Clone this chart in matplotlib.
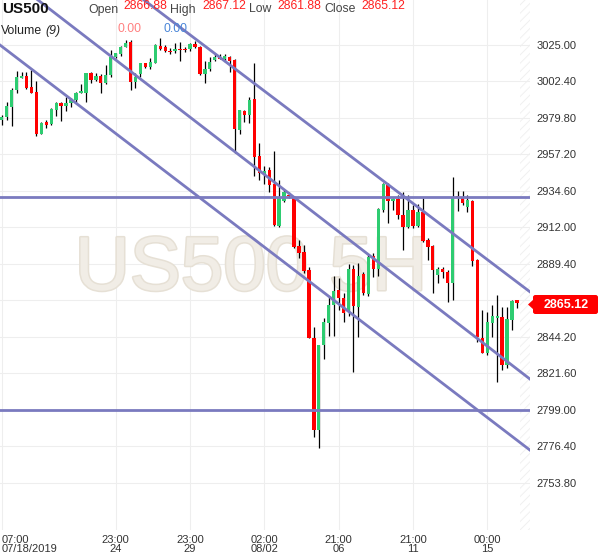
import matplotlib
matplotlib.use("Agg")
import matplotlib.pyplot as plt
import matplotlib.patheffects as pe
from matplotlib.patches import FancyBboxPatch, Polygon
import numpy as np

# 5H candles, US500
opens = [
    2978.4, 2980.0, 2986.6, 2997.0, 3004.6, 3005.6, 2998.6, 2995.7, 2969.9, 2977.1,
    2975.7, 2984.8, 2989.1, 2987.2, 2988.7, 2990.8, 2995.3, 2995.3, 3007.5, 3003.1,
    3005.6, 3001.1, 3006.2, 3017.2, 3019.1, 3023.8, 3026.9, 3001.7, 3006.9, 3013.5,
    3011.4, 3013.9, 3024.2, 3023.8, 3021.3, 3020.9, 3022.2, 3022.2, 3022.2, 3025.4,
    3023.8, 3006.9, 3009.8, 3015.5, 3017.6, 3016.0, 3017.6, 3015.5, 2972.2, 2984.1,
    2981.5, 2991.4, 2956.1, 2944.9, 2947.4, 2938.7, 2912.7, 2928.2, 2931.9, 2930.1,
    2900.4, 2896.6, 2885.5, 2843.4, 2786.4, 2839.1, 2852.7, 2863.8, 2873.1, 2868.2,
    2859.5, 2886.1, 2862.6, 2883.0, 2870.6, 2894.2, 2886.1, 2922.6, 2938.1, 2928.4,
    2929.5, 2919.5, 2912.1, 2922.6, 2912.7, 2921.4, 2904.1, 2900.4, 2882.4, 2886.1,
    2884.3, 2877.4, 2931.3, 2930.7, 2924.5, 2928.2, 2891.7, 2843.4, 2834.1, 2852.7,
    2856.0, 2856.4, 2826.7, 2854.5, 2866.88]
closes = [
    2980.4, 2987.0, 2997.0, 3004.8, 3005.6, 2998.0, 2995.3, 2969.5, 2976.7, 2975.5,
    2985.0, 2989.1, 2987.2, 2989.1, 2990.8, 2995.3, 2996.5, 3007.3, 3003.1, 3005.6,
    3001.1, 3006.2, 3017.6, 3019.7, 3023.8, 3026.2, 3002.1, 3004.8, 3013.5, 3011.4,
    3014.5, 3024.8, 3022.2, 3021.3, 3020.7, 3022.3, 3021.5, 3021.7, 3025.4, 3023.4,
    3006.9, 3010.0, 3014.5, 3017.6, 3016.3, 3018.0, 3015.1, 2972.6, 2984.6, 2981.5,
    2990.8, 2955.6, 2945.4, 2947.0, 2938.1, 2913.4, 2930.7, 2933.8, 2931.3, 2899.7,
    2896.0, 2884.9, 2843.4, 2786.4, 2839.1, 2853.3, 2863.8, 2872.5, 2868.2, 2858.9,
    2886.1, 2863.2, 2881.8, 2871.3, 2893.5, 2886.1, 2923.3, 2938.7, 2928.2, 2929.3,
    2919.5, 2912.1, 2922.6, 2912.7, 2921.4, 2903.5, 2899.7, 2885.5, 2886.1, 2884.3,
    2877.4, 2930.7, 2930.4, 2927.0, 2928.8, 2891.1, 2844.0, 2834.1, 2853.3, 2857.0,
    2857.2, 2826.7, 2855.2, 2866.3, 2865.12]
highs = [
    2981.5, 2989.3, 2998.0, 3008.7, 3007.9, 3007.9, 3009.3, 3002.5, 2977.3, 2978.4,
    2985.6, 2989.7, 2989.5, 2992.8, 2992.2, 2995.9, 3000.7, 3007.5, 3007.9, 3007.3,
    3006.7, 3012.2, 3021.7, 3020.1, 3024.2, 3027.9, 3027.9, 3007.3, 3013.9, 3013.9,
    3016.6, 3025.4, 3029.0, 3024.8, 3022.8, 3025.9, 3026.9, 3023.8, 3025.9, 3027.3,
    3024.2, 3015.1, 3017.2, 3019.2, 3019.2, 3019.1, 3018.2, 3016.0, 2984.6, 2984.4,
    2992.8, 3013.5, 2964.0, 2949.9, 2949.5, 2959.2, 2941.2, 2935.0, 2933.8, 2931.3,
    2904.1, 2901.0, 2887.4, 2850.2, 2839.3, 2855.8, 2868.8, 2881.8, 2880.5, 2871.3,
    2889.2, 2888.6, 2889.8, 2884.3, 2894.8, 2896.0, 2923.9, 2939.4, 2939.4, 2930.1,
    2931.9, 2933.8, 2931.9, 2925.7, 2926.4, 2930.1, 2905.3, 2901.0, 2887.4, 2887.4,
    2885.5, 2943.1, 2934.6, 2934.6, 2931.9, 2928.8, 2892.0, 2860.7, 2859.5, 2863.8,
    2870.0, 2862.6, 2862.6, 2866.9, 2867.12]
lows = [
    2975.3, 2978.4, 2974.8, 2994.9, 3004.1, 2997.4, 2994.9, 2968.6, 2969.5, 2973.6,
    2975.3, 2980.9, 2977.9, 2984.0, 2986.6, 2989.1, 2994.9, 2989.7, 3001.5, 3002.8,
    2995.3, 3000.7, 3005.2, 3016.6, 3018.0, 3023.3, 2997.0, 2998.0, 3005.2, 3010.4,
    3009.8, 3013.5, 3021.7, 3020.7, 3019.2, 3019.7, 3015.1, 3020.7, 3021.3, 3022.8,
    3006.2, 3001.1, 3008.7, 3014.9, 3016.0, 3014.5, 3008.3, 2957.8, 2969.7, 2977.3,
    2976.7, 2943.7, 2941.2, 2938.7, 2934.0, 2912.7, 2912.1, 2927.6, 2930.1, 2899.1,
    2892.9, 2883.6, 2843.1, 2782.1, 2775.3, 2830.4, 2844.6, 2844.6, 2860.7, 2853.3,
    2857.0, 2822.3, 2844.0, 2870.0, 2869.4, 2881.2, 2881.8, 2921.4, 2914.6, 2922.6,
    2917.1, 2897.9, 2911.5, 2911.8, 2912.1, 2902.8, 2891.7, 2871.3, 2877.4, 2880.5,
    2865.7, 2866.9, 2922.2, 2925.7, 2921.4, 2888.0, 2840.9, 2833.8, 2832.9, 2844.0,
    2816.1, 2823.6, 2824.8, 2848.3, 2861.88]

x_ticks = [0, 23, 38, 53, 68, 83, 98]
x_labels = ["07:00\n07/18/2019", "23:00\n24", "23:00\n29", "02:00\n08/02",
            "21:00\n06", "21:00\n11", "00:00\n15"]
y_ticks = [3025.00, 3002.40, 2979.80, 2957.20, 2934.60, 2912.00, 2889.40,
           2866.80, 2844.20, 2821.60, 2799.00, 2776.40, 2753.80]

# drawn support / resistance and channel lines
h_levels = [2930.7, 2799.0]
channel = [((39.4, 3027.9), (106.6, 2872.0)),
           ((17.8, 3027.9), (106.6, 2818.0)),
           ((-0.34, 3024.8), (106.6, 2774.0))]

last_close = 2865.12

plt.rcParams["font.family"] = ["Liberation Sans", "DejaVu Sans"]
plt.rcParams["hatch.linewidth"] = 0.7

W, H = 600, 558
fig = plt.figure(figsize=(W / 100, H / 100), dpi=100)
ax = fig.add_axes([0, 28 / H, 530 / W, 530 / H])


def fx(x, y):
    return x / W, 1 - y / H


o = np.array(opens)
c = np.array(closes)
hi = np.array(highs)
lo = np.array(lows)
idx = np.arange(len(o))

ax.set_xlim(-0.34, 106.62)
ax.set_ylim(2724.5, 3052.68)

# future area hatch
ax.axvspan(104.6, 106.62, facecolor="none", edgecolor="#f0f0f0", hatch="////",
           lw=0, zorder=0)

# watermark
ax.text(251 / W, 1 - 290 / H, "US500 5H", transform=fig.transFigure,
        ha="center", va="baseline", fontsize=55, color="#f1ede6",
        family=["Liberation Sans Narrow", "Liberation Sans"], zorder=1,
        path_effects=[pe.withStroke(linewidth=2.2, foreground="#e6e0d5")])

up = c >= o
colors = np.where(up, "#2ecc71", "#ff0000")
ax.vlines(idx, lo, hi, color="black", lw=0.9, zorder=3)
ax.bar(idx, np.maximum(np.abs(c - o), 0.6), bottom=np.minimum(o, c), width=0.68,
       color=colors, lw=0, zorder=4)

line_col = "#7a7abf"
for lvl in h_levels:
    ax.axhline(lvl, color=line_col, lw=2.0, zorder=5)
for p1, p2 in channel:
    ax.axline(p1, p2, color=line_col, lw=2.0, zorder=5)

ax.set_xticks(x_ticks)
ax.set_xticklabels(x_labels, linespacing=0.9)
ax.get_xticklabels()[0].set_ha("left")
ax.set_yticks(y_ticks)
# the label under the last-price marker is hidden in the original
ax.set_yticklabels(["" if abs(v - last_close) < 5 else f"{v:.2f}" for v in y_ticks])
ax.yaxis.tick_right()
ax.tick_params(axis="both", length=0, labelsize=8, colors="#333333")
ax.tick_params(axis="y", pad=4.5)
ax.tick_params(axis="x", pad=3.5)
ax.grid(True, color="#eeeeee", lw=0.8, zorder=0)
ax.set_axisbelow(True)
for s in ax.spines.values():
    s.set_visible(False)

# header
fig.text(*fx(2, 9), "US500", fontsize=11, fontweight="bold", color="#111111", va="center")
hdr = [("Open", 88, "2866.88", 123), ("High", 170, "2867.12", 202),
       ("Low", 249, "2861.88", 277), ("Close", 324, "2865.12", 361)]
for lab, lx, val, vx in hdr:
    fig.text(*fx(lx, 9.5), lab, fontsize=8.8, color="#444444", va="center")
    fig.text(*fx(vx, 6), val, fontsize=8.8, color="#ff2020", va="center")
fig.text(*fx(1, 31), "Volume", fontsize=8.8, color="#222222", va="center")
fig.text(*fx(45, 31), "(9)", fontsize=8.8, color="#222222", va="center", style="italic")
fig.text(*fx(117, 29), "0.00", fontsize=8.8, color="#ff8080", va="center")
fig.text(*fx(163, 29), "0.00", fontsize=8.8, color="#4a86d8", va="center")

# last price marker
bx, by = fx(533, 314)
fig.patches.append(FancyBboxPatch((bx, by), 65 / W, 19 / H, transform=fig.transFigure,
                                  boxstyle="round,pad=0,rounding_size=0.004",
                                  fc="#ff0000", ec="none", zorder=6))
fig.patches.append(Polygon([fx(528, 304.5), fx(534, 299), fx(534, 310)], closed=True,
                           transform=fig.transFigure, fc="#ff0000", ec="none", zorder=6))
fig.text(*fx(566, 304.5), f"{last_close:.2f}", fontsize=9, fontweight="bold",
         color="white", ha="center", va="center", zorder=7)

fig.savefig("out.png", dpi=100)
